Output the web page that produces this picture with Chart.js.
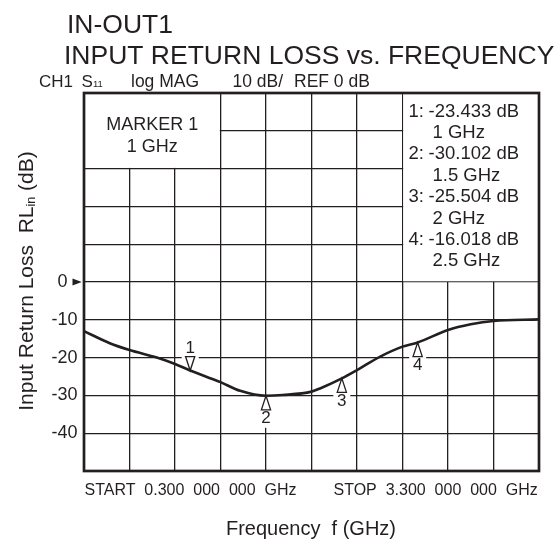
<!DOCTYPE html>
<html><head><meta charset="utf-8">
<script src="https://cdn.jsdelivr.net/npm/chart.js@4"></script>
<style>html,body{margin:0;padding:0;background:#fff}canvas{display:block}</style>
</head><body>
<canvas id="c" width="559" height="542"></canvas>
<script>
// ---- data ----
const freqGHz = [0.3, 0.47, 0.6, 0.78, 0.9, 1.0, 1.2, 1.33, 1.5, 1.61, 1.8, 1.86, 2.0, 2.1, 2.25, 2.4, 2.5, 2.7, 2.85, 3.0, 3.3];
const rlDb    = [-13.0, -16.2, -18.0, -20.0, -21.7, -23.4, -26.5, -28.8, -30.1, -29.9, -29.0, -28.1, -25.5, -23.3, -19.8, -17.1, -16.0, -12.7, -11.2, -10.3, -9.9];
const markerFreq = [1.0, 1.5, 2.0, 2.5];
const markerDb = [-23.433, -30.102, -25.504, -16.018];
const markerNames = ['1', '2', '3', '4'];
const markerPointDown = [true, false, false, false];
const xTickValues = [0.3, 0.6, 0.9, 1.2, 1.5, 1.8, 2.1, 2.4, 2.7, 3.0, 3.3];
const yTickValues = [-50, -40, -30, -20, -10, 0, 10, 20, 30, 40, 50];
const yTickLabels = {'0': '0  ', '-10': '-10', '-20': '-20', '-30': '-30', '-40': '-40'};
const titleLines = ['IN-OUT1', 'INPUT RETURN LOSS vs. FREQUENCY'];
const startLabel = 'START  0.300  000  000  GHz';
const stopLabel = 'STOP  3.300  000  000  GHz';
const markerBoxLines = ['MARKER 1', '1 GHz'];

const FONT = '"Liberation Sans", Arial, Helvetica, sans-serif';
const INK = '#231f20';

const deco = {
  id: 'deco',
  beforeDatasetsDraw(chart) {
    const {ctx, scales: {x, y}} = chart;
    ctx.save();
    ctx.fillStyle = '#fff';
    const box = (f0, d0, f1, d1) => {
      const x0 = x.getPixelForValue(f0), x1 = x.getPixelForValue(f1);
      const y0 = y.getPixelForValue(d0), y1 = y.getPixelForValue(d1);
      ctx.fillRect(x0 + 0.7, y0 + 0.7, x1 - x0 - 1.4, y1 - y0 - 1.4);
    };
    box(0.3, 50, 1.2, 30);
    box(2.4, 50, 3.3, 0);
    markerFreq.forEach((f, i) => {
      const px = x.getPixelForValue(f), py = y.getPixelForValue(markerDb[i]);
      if (markerPointDown[i]) ctx.fillRect(px - 8.5, py - 31, 17, 29);
      else ctx.fillRect(px - 8.5, py + 2, 17, 30);
    });
    ctx.restore();
  },
  afterDatasetsDraw(chart) {
    const {ctx, chartArea: a, scales: {x, y}} = chart;
    ctx.save();
    ctx.fillStyle = INK;
    ctx.strokeStyle = INK;
    ctx.textBaseline = 'alphabetic';

    // markers
    markerFreq.forEach((f, i) => {
      const px = x.getPixelForValue(f), py = y.getPixelForValue(markerDb[i]);
      const s = markerPointDown[i] ? -1 : 1;
      ctx.beginPath();
      ctx.moveTo(px, py);
      ctx.lineTo(px - 4.6, py + s * 14);
      ctx.lineTo(px + 4.6, py + s * 14);
      ctx.closePath();
      ctx.fillStyle = '#fff';
      ctx.fill();
      ctx.lineWidth = 1.3;
      ctx.stroke();
      ctx.fillStyle = INK;
      ctx.font = '17px ' + FONT;
      ctx.textAlign = 'center';
      ctx.textBaseline = 'middle';
      ctx.fillText(markerNames[i], px, py + s * 22.5);
    });
    ctx.textBaseline = 'alphabetic';

    // frame
    ctx.lineWidth = 2.7;
    ctx.strokeRect(a.left, a.top, a.right - a.left, a.bottom - a.top);

    // reference arrow at 0 dB
    const y0 = y.getPixelForValue(0);
    ctx.beginPath();
    ctx.moveTo(a.left - 2.3, y0);
    ctx.lineTo(a.left - 11.5, y0 - 3.6);
    ctx.lineTo(a.left - 11.5, y0 + 3.6);
    ctx.closePath();
    ctx.fill();

    // marker box text
    ctx.textAlign = 'center';
    ctx.font = '18px ' + FONT;
    const mcx = (x.getPixelForValue(0.3) + x.getPixelForValue(1.2)) / 2;
    ctx.fillText(markerBoxLines[0], mcx, 129.5);
    ctx.fillText(markerBoxLines[1], mcx, 152);

    // marker list
    ctx.textAlign = 'left';
    ctx.font = '18.5px ' + FONT;
    markerFreq.forEach((f, i) => {
      const b1 = 116.5 + i * 42.8;
      ctx.fillText((i + 1) + ':', 408.5, b1);
      ctx.fillText(markerDb[i].toFixed(3) + ' dB', 428.5, b1);
      ctx.fillText(f + ' GHz', 432.5, b1 + 21.4);
    });

    // titles
    ctx.font = '26.5px ' + FONT;
    ctx.fillText(titleLines[0], 67, 33);
    ctx.fillText(titleLines[1], 64, 63.5);

    // header line
    ctx.font = '17px ' + FONT;
    ctx.fillText('CH1', 39, 86.5);
    ctx.fillText('S', 81.5, 86.5);
    ctx.font = '9.5px ' + FONT;
    ctx.fillText('11', 93, 86.5);
    ctx.font = '17.5px ' + FONT;
    ctx.fillText('log MAG', 131, 86.5);
    ctx.fillText('10 dB/', 232.5, 86.5);
    ctx.fillText('REF 0 dB', 294, 86.5);

    // bottom labels
    ctx.font = '16px ' + FONT;
    ctx.fillText(startLabel, 84.5, 495);
    ctx.fillText(stopLabel, 333.5, 495);
    ctx.textAlign = 'center';
    ctx.font = '20px ' + FONT;
    ctx.fillText('Frequency  f (GHz)', 311, 535);

    // y title (rotated, with subscript)
    ctx.textAlign = 'left';
    const p1 = 'Input Return Loss  RL', sub = 'in', p2 = ' (dB)';
    ctx.font = '21px ' + FONT; const w1 = ctx.measureText(p1).width, w3 = ctx.measureText(p2).width;
    ctx.font = '12.5px ' + FONT; const w2 = ctx.measureText(sub).width;
    const total = w1 + w2 + w3;
    ctx.translate(32.5, 281);
    ctx.rotate(-Math.PI / 2);
    let cx = -total / 2;
    ctx.font = '21px ' + FONT; ctx.fillText(p1, cx, 0); cx += w1;
    ctx.font = '12.5px ' + FONT; ctx.fillText(sub, cx, 2); cx += w2;
    ctx.font = '21px ' + FONT; ctx.fillText(p2, cx, 0);
    ctx.restore();
  }
};

new Chart(document.getElementById('c'), {
  type: 'line',
  data: {
    datasets: [{
      data: freqGHz.map((f, i) => ({x: f, y: rlDb[i]})),
      borderColor: INK,
      borderWidth: 2.6,
      pointRadius: 0,
      cubicInterpolationMode: 'monotone',
      fill: false
    }]
  },
  options: {
    responsive: false,
    animation: false,
    devicePixelRatio: 1,
    layout: {padding: {top: 93, right: 20, left: 0, bottom: 0}},
    plugins: {legend: {display: false}, tooltip: {enabled: false}, title: {display: false}},
    scales: {
      x: {
        type: 'linear', min: 0.3, max: 3.3,
        afterBuildTicks: s => { s.ticks = xTickValues.map(v => ({value: v})); },
        afterFit: s => { s.height = 71; },
        ticks: {display: false},
        grid: {color: INK, lineWidth: 1.3, drawTicks: false},
        border: {display: false}
      },
      y: {
        type: 'linear', min: -50, max: 50,
        afterBuildTicks: s => { s.ticks = yTickValues.map(v => ({value: v})); },
        afterFit: s => { s.width = 84; },
        ticks: {
          autoSkip: false,
          padding: 6.5,
          color: INK,
          font: {family: FONT, size: 18},
          callback: v => yTickLabels[String(v)] || ''
        },
        grid: {color: INK, lineWidth: 1.3, drawTicks: false},
        border: {display: false}
      }
    }
  },
  plugins: [deco]
});
</script>
</body></html>
